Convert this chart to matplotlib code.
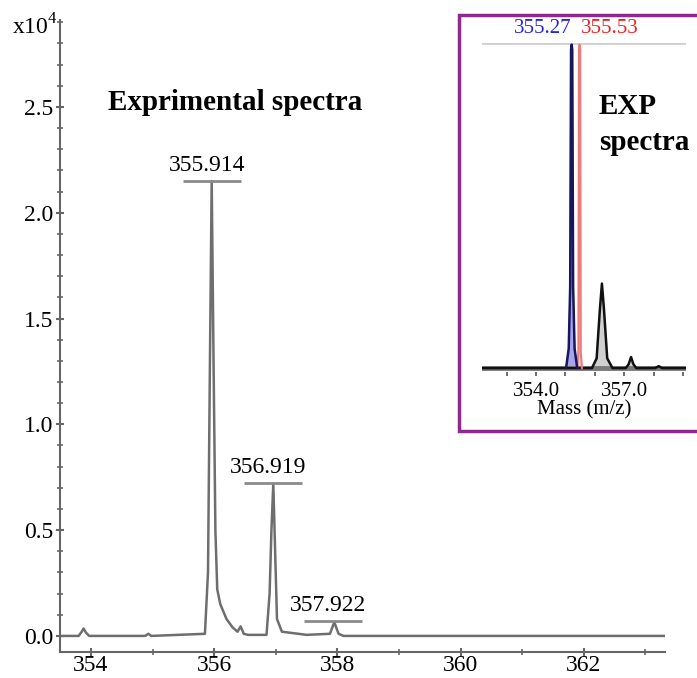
import matplotlib.pyplot as plt
from matplotlib.patches import Rectangle
from matplotlib.ticker import MultipleLocator, FixedLocator

plt.rcParams['font.family'] = ['Liberation Serif', 'DejaVu Serif']
plt.rcParams['mathtext.fontset'] = 'custom'
plt.rcParams['mathtext.rm'] = 'Liberation Serif'

# glowne widmo (m/z, intensywnosc w 1e4)
mz = [353.50, 353.80, 353.85, 353.88, 353.92, 353.97, 354.10, 354.88, 354.93, 354.98,
      355.85, 355.90, 355.93, 355.96, 355.99, 356.02, 356.05, 356.10, 356.20, 356.30,
      356.38, 356.43, 356.48, 356.55, 356.85, 356.90, 356.93, 356.96, 356.99, 357.02,
      357.10, 357.50, 357.88, 357.95, 358.02, 358.10, 363.30]
inten = [0.00, 0.00, 0.02, 0.035, 0.015, 0.00, 0.00, 0.00, 0.01, 0.00,
         0.01, 0.30, 1.25, 2.15, 1.30, 0.50, 0.22, 0.15, 0.08, 0.04,
         0.02, 0.045, 0.01, 0.005, 0.005, 0.20, 0.50, 0.72, 0.40, 0.08,
         0.02, 0.005, 0.01, 0.065, 0.01, 0.00, 0.00]

peak_labels = ['355.914', '356.919', '357.922']
peak_mz = [355.96, 356.955, 357.935]
peak_bar_y = [2.15, 0.723, 0.071]

# wstawka: widmo EXP
blue_x = [355.02, 355.11, 355.16, 355.19, 355.21, 355.23, 355.26, 355.31, 355.40]
blue_y = [0.0, 0.06, 0.25, 0.98, 0.995, 0.98, 0.25, 0.06, 0.0]
red_x = [355.40, 355.44, 355.46, 355.48, 355.50, 355.52, 355.56]
red_y = [0.0, 0.05, 0.98, 0.995, 0.98, 0.05, 0.0]
exp_x = [352.16, 355.90, 356.06, 356.17, 356.24, 356.31, 356.42, 356.60,
         357.05, 357.15, 357.23, 357.31, 357.41, 358.05, 358.17, 358.29, 359.10]
exp_y = [0.0, 0.0, 0.03, 0.18, 0.26, 0.18, 0.03, 0.0,
         0.0, 0.012, 0.034, 0.012, 0.0, 0.0, 0.006, 0.0, 0.0]

W, H = 697, 678
fig = plt.figure(figsize=(W / 100, H / 100), dpi=100)

ax = fig.add_axes([60 / W, 1 - 652 / H, (665 - 60) / W, (652 - 20) / H])
ax.plot(mz, inten, color='#6e6e6e', lw=1.8)
ax.set_xlim(353.497, 363.32)
ax.set_ylim(-0.076, 2.911)

for lab, x, yb in zip(peak_labels, peak_mz, peak_bar_y):
    ax.hlines(yb, x - 0.47, x + 0.47, color='#8a8a8a', lw=2)
    ax.text(x - 0.08, yb + 0.025, lab, ha='center', va='bottom', fontsize=17)

ax.text(354.27, 2.52, 'Exprimental spectra', fontsize=21, fontweight='bold',
        va='center', ha='left')

ax.xaxis.set_major_locator(MultipleLocator(2))
ax.xaxis.set_minor_locator(MultipleLocator(1))
ax.yaxis.set_minor_locator(MultipleLocator(0.1))
ax.set_yticks([0, 0.5, 1.0, 1.5, 2.0, 2.5])
ax.set_yticklabels(['0.0', '0.5', '1.0', '1.5', '2.0', '2.5'])
ax.tick_params(axis='both', which='major', labelsize=17, color='#666666',
               direction='inout', length=6, width=1.5, pad=2)
ax.tick_params(axis='x', which='major', pad=-1)
ax.tick_params(axis='both', which='minor', color='#666666',
               direction='inout', length=4, width=1.2)
for s in ['top', 'right']:
    ax.spines[s].set_visible(False)
for s in ['left', 'bottom']:
    ax.spines[s].set_color('#666666')
    ax.spines[s].set_linewidth(1.5)
fig.text(12 / W, 1 - 27 / H, 'x10$^{4}$', fontsize=17, va='center', ha='left')

# ramka wstawki
fig.add_artist(Rectangle((459 / W, 1 - 431 / H), (W - 459 + 10) / W, (431 - 15) / H,
                         transform=fig.transFigure, facecolor='white',
                         edgecolor='#8e2a8e', lw=2.5, zorder=2))

ins = fig.add_axes([482 / W, 1 - 372 / H, (686 - 482) / W, (372 - 43) / H], zorder=3)
ins.patch.set_alpha(0)
ins.axhline(1.0, color='#cfcfcf', lw=2)
ins.fill(exp_x, exp_y, color='#d0d0d0')
ins.plot(exp_x, exp_y, color='#111111', lw=1.8)
ins.fill(red_x, red_y, color='#ffd0d0')
ins.plot(red_x, red_y, color='#f07a7a', lw=1.5)
ins.fill(blue_x, blue_y, color='#a8a4ee')
ins.plot(blue_x, blue_y, color='#17175e', lw=1.8)
ins.axhline(0.0, color='#7a7a7a', lw=3.5, zorder=1)
ins.set_xlim(352.16, 359.1)
ins.set_ylim(-0.012, 1.0)
ins.xaxis.set_major_locator(FixedLocator([354, 357]))
ins.xaxis.set_minor_locator(MultipleLocator(1))
ins.set_xticklabels(['354.0', '357.0'])
ins.set_yticks([])
for s in ['top', 'right', 'left', 'bottom']:
    ins.spines[s].set_visible(False)
ins.tick_params(axis='x', which='both', color='#555555', length=3, width=1.2,
                labelsize=15, pad=4)
ins.set_xlabel('Mass (m/z)', fontsize=15, labelpad=0)
ins.text(355.21, 1.015, '355.27', color='#2424e0', fontsize=15, ha='right', va='bottom')
ins.text(355.52, 1.015, '355.53', color='#ee2020', fontsize=15, ha='left', va='bottom')
fig.text(599 / W, 1 - 106 / H, 'EXP', fontsize=21, fontweight='bold', va='center')
fig.text(599 / W, 1 - 143 / H, 'spectra', fontsize=21, fontweight='bold', va='center')

fig.savefig('out.png', dpi=100)
